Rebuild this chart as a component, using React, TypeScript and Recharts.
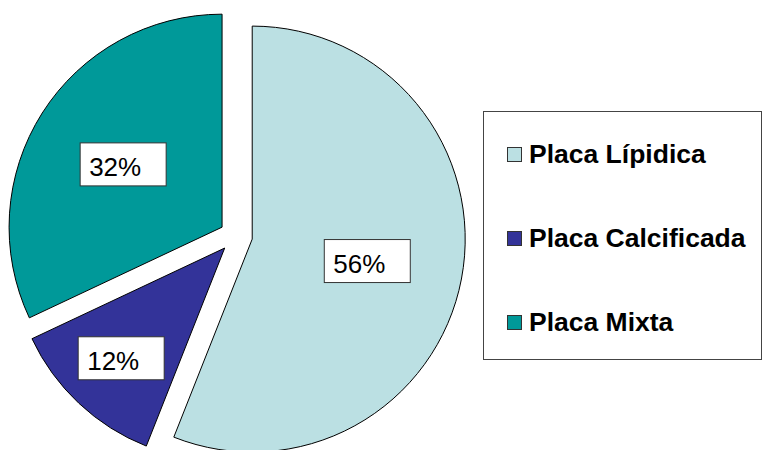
import { PieChart, Pie, Cell, Sector, Legend } from "recharts"

// ------------------------------------------------------------------
// Data
// ------------------------------------------------------------------

const categories = ["Placa Lípidica", "Placa Calcificada", "Placa Mixta"]
const percents = [56, 12, 32]
const colors = ["#BBE0E3", "#333399", "#009999"]

const data = categories.map((name, i) => ({ name, value: percents[i] }))

const RAD = Math.PI / 180
const EXPLODE = 16.5
const FONT = '"Liberation Sans", Arial, sans-serif'

// ------------------------------------------------------------------
// Exploded sector
// ------------------------------------------------------------------

function ExplodedSector(props: any) {
    const { cx, cy, midAngle } = props
    const dx = EXPLODE * Math.cos(-midAngle * RAD)
    const dy = EXPLODE * Math.sin(-midAngle * RAD)
    return <Sector {...props} cx={cx + dx} cy={cy + dy} />
}

// ------------------------------------------------------------------
// Boxed percent label
// ------------------------------------------------------------------

function BoxLabel(props: any) {
    const { cx, cy, midAngle, outerRadius, value, percent } = props
    const cos = Math.cos(-midAngle * RAD)
    const sin = Math.sin(-midAngle * RAD)
    const r = EXPLODE + outerRadius * (percent < 0.2 ? 0.71 : 0.55)
    const x = cx + r * cos
    const y = cy + r * sin
    const w = 86
    const h = 43
    return (
        <g>
            <rect x={x - w / 2} y={y - h / 2} width={w} height={h} fill="#fff" stroke="#333" strokeWidth={1} />
            <text x={x - w / 2 + 9} y={y - h / 2 + 33} fontSize={26} fontFamily={FONT} fill="#000">
                {`${value}%`}
            </text>
        </g>
    )
}

// ------------------------------------------------------------------
// Legend box (kept in data order)
// ------------------------------------------------------------------

function LegendBox() {
    return (
        <div
            style={{
                position: "relative",
                width: 279,
                height: 249,
                border: "1px solid #444",
                boxSizing: "border-box",
                background: "#fff",
            }}
        >
            {categories.map((name, i) => (
                <div
                    key={name}
                    style={{
                        position: "absolute",
                        left: 23,
                        top: 27 + i * 84,
                        height: 30,
                        display: "flex",
                        alignItems: "center",
                        whiteSpace: "nowrap",
                    }}
                >
                    <span
                        style={{
                            display: "inline-block",
                            width: 13,
                            height: 13,
                            background: colors[i],
                            border: "1px solid #333",
                            marginRight: 7,
                        }}
                    />
                    <span style={{ fontFamily: FONT, fontWeight: "bold", fontSize: 26.5, color: "#000" }}>
                        {name}
                    </span>
                </div>
            ))}
        </div>
    )
}

// ------------------------------------------------------------------
// Chart
// ------------------------------------------------------------------

export default function App() {
    return (
        <div style={{ position: "absolute", left: 0, top: 0, width: 763, height: 450, background: "#fff" }}>
            <PieChart width={763} height={450} margin={{ top: 0, right: 0, bottom: 0, left: 0 }}>
                <Pie
                    data={data}
                    dataKey="value"
                    nameKey="name"
                    cx={236}
                    cy={236}
                    outerRadius={213}
                    startAngle={90}
                    endAngle={-270}
                    stroke="#000"
                    strokeWidth={1}
                    label={BoxLabel}
                    labelLine={false}
                    shape={ExplodedSector}
                    inactiveShape={ExplodedSector}
                    activeShape={ExplodedSector}
                    isAnimationActive={false}
                >
                    {data.map((d, i) => (
                        <Cell key={d.name} fill={colors[i]} />
                    ))}
                </Pie>
                <Legend
                    content={<LegendBox />}
                    wrapperStyle={{ position: "absolute", left: 483, top: 111, width: 279, height: 249 }}
                />
            </PieChart>
        </div>
    )
}
